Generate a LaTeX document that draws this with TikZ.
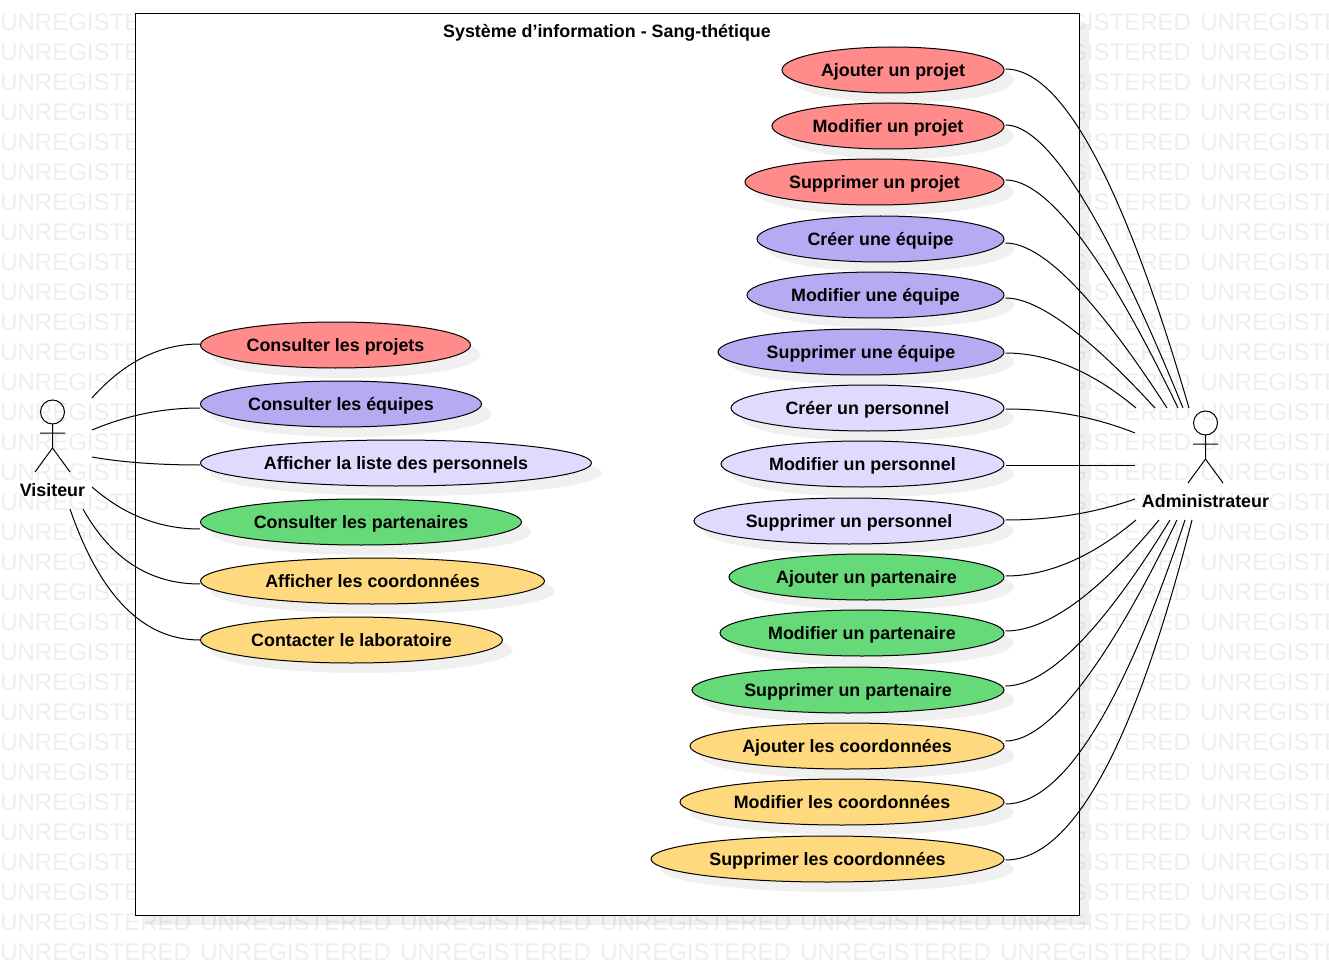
\documentclass[tikz,border=0pt]{standalone}
\usepackage{fontspec}
\setmainfont{Liberation Sans}
\usetikzlibrary{shapes.geometric,shadows}
\definecolor{cred}{HTML}{FF8B8B}
\definecolor{cpur}{HTML}{B5ABF3}
\definecolor{clil}{HTML}{E0DAFE}
\definecolor{cgrn}{HTML}{66DA78}
\definecolor{cyel}{HTML}{FFD97E}
\definecolor{wmark}{HTML}{EEEEEE}
\newcommand{\ucl}[6]{\node[usecase,fill=#5,minimum width={(#3)*0.75pt}] (#1) at ({((#2)+0.5+(#3)/2)},#4) {#6};}
\newcommand{\ucr}[5]{\node[usecase,fill=#4,minimum width={(1004-(#2))*0.75pt}] (#1) at ({((#2)+1004)/2},#3) {#5};}
\tikzset{
 usecase/.style={ellipse,draw=black,line width=0.75pt,minimum height=34.5pt,inner sep=0pt,text=black,
   font=\fontsize{13.4pt}{15pt}\bfseries,text height=12pt,text depth=2.4pt,
   drop shadow={shadow xshift=7.5pt,shadow yshift=-7.5pt,fill=black,opacity=.06}},
 sysbox/.style={rectangle,draw=black,line width=0.75pt,fill=white,inner sep=0pt,
   drop shadow={shadow xshift=7.5pt,shadow yshift=-7.5pt,fill=black,opacity=.06}},
 conn/.style={draw=black,line width=0.75pt},
 actorline/.style={draw=black,line width=0.75pt},
 label/.style={font=\fontsize{13.4pt}{15pt}\bfseries,text=black,inner sep=0pt,text height=12pt,text depth=2.4pt},
 wm/.style={font=\fontsize{18pt}{20pt}\selectfont,text=wmark,anchor=west,inner sep=0pt},
}
\begin{document}
\begin{tikzpicture}[x=0.75pt,y=-0.75pt]
\useasboundingbox (0,0) rectangle (1329,970);
\begin{scope}
\clip (0,0) rectangle (1329,970);
\foreach \r in {0,...,31}{
  \foreach \c in {0,...,6}{
    \node[wm] at ({\c*200},{22+\r*30}) {UNREGISTERED};
  }
}
\end{scope}
\node[sysbox,minimum width=708pt,minimum height=675.75pt] (sys) at (607,464.5) {};
\node[label] (title) at (607,31) {Système d\char39 information - Sang-thétique};
% left use cases
\ucl{l1}{200}{270}{345}{cred}{Consulter les projets}
\ucl{l2}{200}{281}{404}{cpur}{Consulter les équipes}
\ucl{l3}{200}{391}{463}{clil}{Afficher la liste des personnels}
\ucl{l4}{200}{321}{522}{cgrn}{Consulter les partenaires}
\ucl{l5}{200}{344}{581}{cyel}{Afficher les coordonnées}
\ucl{l6}{200}{302}{640}{cyel}{Contacter le laboratoire}
% right use cases
\ucr{r1}{782}{70}{cred}{Ajouter un projet}
\ucr{r2}{772}{126}{cred}{Modifier un projet}
\ucr{r3}{745}{182}{cred}{Supprimer un projet}
\ucr{r4}{757}{239}{cpur}{Créer une équipe}
\ucr{r5}{747}{295}{cpur}{Modifier une équipe}
\ucr{r6}{718}{352}{cpur}{Supprimer une équipe}
\ucr{r7}{731}{408}{clil}{Créer un personnel}
\ucr{r8}{721}{464}{clil}{Modifier un personnel}
\ucr{r9}{694}{521}{clil}{Supprimer un personnel}
\ucr{r10}{729}{577}{cgrn}{Ajouter un partenaire}
\ucr{r11}{720}{633}{cgrn}{Modifier un partenaire}
\ucr{r12}{692}{690}{cgrn}{Supprimer un partenaire}
\ucr{r13}{690}{746}{cyel}{Ajouter les coordonnées}
\ucr{r14}{680}{802}{cyel}{Modifier les coordonnées}
\ucr{r15}{651}{859}{cyel}{Supprimer les coordonnées}
% actors
\draw[actorline] (52.5,412) circle (9pt);
\draw[actorline] (52.5,424) -- (52.5,448) (40,433) -- (65,433) (35,472) -- (52.5,448) -- (70,472);
\node[label] (visiteur) at (52.5,490) {Visiteur};
\draw[actorline] (1205.5,423) circle (9pt);
\draw[actorline] (1205.5,435) -- (1205.5,459) (1193,444) -- (1218,444) (1188,483) -- (1205.5,459) -- (1223,483);
\node[label] (admin) at (1205.5,501) {Administrateur};
% free ends
\coordinate (va1) at (92,398);
\coordinate (va2) at (92,430);
\coordinate (va3) at (92,457);
\coordinate (va4) at (92,487);
\coordinate (va5) at (83,509);
\coordinate (va6) at (70,509);
\coordinate (ad1) at (1189,408);
\coordinate (ad2) at (1183,408);
\coordinate (ad3) at (1178,408);
\coordinate (ad4) at (1167,408);
\coordinate (ad5) at (1155,408);
\coordinate (ad6) at (1136,408);
\coordinate (ad7) at (1135,433);
\coordinate (ad8) at (1135,465);
\coordinate (ad9) at (1135,499);
\coordinate (ad10) at (1136,520);
\coordinate (ad11) at (1159,520);
\coordinate (ad12) at (1170,520);
\coordinate (ad13) at (1177,520);
\coordinate (ad14) at (1185,520);
\coordinate (ad15) at (1192,520);
% left connectors
\draw[conn] ([yshift=0.75pt]l1.west) .. controls (160,344) and (124,362) .. (va1);
\draw[conn] ([yshift=-3pt]l2.west) .. controls (163,408) and (128,415) .. (va2);
\draw[conn] ([yshift=-1.5pt]l3.west) .. controls (157,465) and (120,462) .. (va3);
\draw[conn] ([yshift=-5.25pt]l4.west) .. controls (160,529) and (124,515) .. (va4);
\draw[conn] ([yshift=-2.25pt]l5.west) .. controls (150,584) and (111,559) .. (va5);
\draw[conn] (l6.west) .. controls (143,640) and (100,596) .. (va6);
% right connectors
\draw[conn] ([xshift=0.75pt,yshift=0.75pt]r1.east) .. controls (1062,69) and (1123,182) .. (ad1);
\draw[conn] ([xshift=0.75pt,yshift=0.75pt]r2.east) .. controls (1047,125) and (1106,219) .. (ad2);
\draw[conn] ([xshift=0.75pt,yshift=1.5pt]r3.east) .. controls (1047,180) and (1105,256) .. (ad3);
\draw[conn] ([xshift=0.75pt,yshift=-3pt]r4.east) .. controls (1042,243) and (1096,298) .. (ad4);
\draw[conn] ([xshift=0.75pt,yshift=-2.25pt]r5.east) .. controls (1038,298) and (1088,335) .. (ad5);
\draw[conn] ([xshift=0.75pt,yshift=-0.75pt]r6.east) .. controls (1048,353) and (1092,371) .. (ad6);
\draw[conn] ([xshift=0.75pt,yshift=-0.75pt]r7.east) .. controls (1052,409) and (1095,417) .. (ad7);
\draw[conn] ([xshift=0.75pt,yshift=-0.75pt]r8.east) -- (ad8);
\draw[conn] ([xshift=0.75pt,yshift=0.75pt]r9.east) .. controls (1052,520) and (1095,513) .. (ad9);
\draw[conn] ([xshift=0.75pt,yshift=0.75pt]r10.east) .. controls (1048,576) and (1092,557) .. (ad10);
\draw[conn] ([xshift=0.75pt,yshift=1.5pt]r11.east) .. controls (1047,631) and (1098,594) .. (ad11);
\draw[conn] ([xshift=0.75pt,yshift=3pt]r12.east) .. controls (1047,686) and (1102,631) .. (ad12);
\draw[conn] ([xshift=0.75pt,yshift=3.75pt]r13.east) .. controls (1048,741) and (1106,667) .. (ad13);
\draw[conn] ([xshift=0.75pt,yshift=-1.5pt]r14.east) .. controls (1062,804) and (1122,709) .. (ad14);
\draw[conn] ([xshift=0.75pt,yshift=-0.75pt]r15.east) .. controls (1072,860) and (1134,747) .. (ad15);
\end{tikzpicture}
\end{document}
